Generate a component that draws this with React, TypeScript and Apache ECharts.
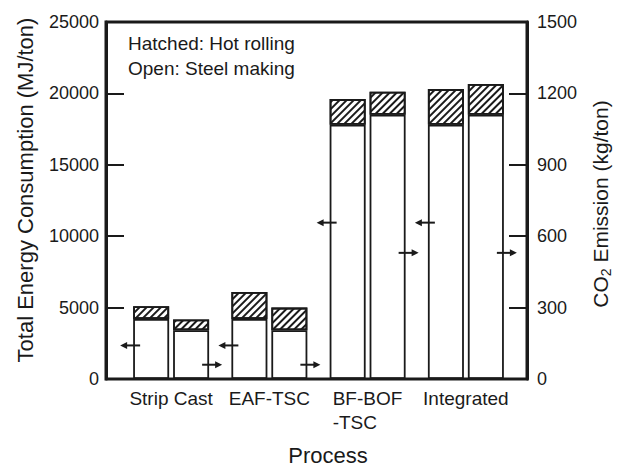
import React, { useEffect, useRef } from 'react';
import * as echarts from 'echarts';

const categories = ['Strip Cast', 'EAF-TSC', 'BF-BOF\n-TSC', 'Integrated'];
const energySteelMaking = [4200, 4200, 17800, 17800];
const energyHotRolling = [900, 1900, 1800, 2500];
const co2SteelMaking = [205, 205, 1110, 1110];
const co2HotRolling = [45, 95, 97, 130];
const leftArrowLevels = [2350, 2350, 10950, 10950];
const rightArrowLevels = [60, 60, 530, 530];

const INK = '#1a1a1a';
const FONT = "'Liberation Sans', Arial, Helvetica, sans-serif";

const hatch = {
  symbol: 'rect',
  symbolSize: 1,
  color: INK,
  backgroundColor: '#fff',
  dashArrayX: [1, 0],
  dashArrayY: [1.3, 2.4],
  rotation: -Math.PI / 4,
};

const barBase = (name: string, stack: string, yAxisIndex: number, data: number[], hatched: boolean) => ({
  type: 'bar',
  name,
  stack,
  yAxisIndex,
  data,
  barWidth: 36,
  barGap: '11%',
  itemStyle: {
    color: '#fff',
    borderColor: INK,
    borderWidth: 1.8,
    ...(hatched ? { decal: hatch } : {}),
  },
  emphasis: { disabled: true },
});

const arrowSeries = (yAxisIndex: number, levels: number[], dir: number) => ({
  type: 'custom',
  yAxisIndex,
  z: 10,
  data: levels.map((v, i) => [i, v]),
  encode: { x: 0, y: 1 },
  renderItem: (_params: any, api: any) => {
    const p = api.coord([api.value(0), api.value(1)]);
    const cx = p[0];
    const y = p[1];
    const head = cx + 51 * dir;
    const tail = cx + 31 * dir;
    const hl = 7 * dir;
    return {
      type: 'group',
      children: [
        {
          type: 'line',
          shape: { x1: tail, y1: y, x2: head - hl * 0.5, y2: y },
          style: { stroke: INK, lineWidth: 2 },
        },
        {
          type: 'polygon',
          shape: { points: [[head, y], [head - hl, y - 3.5], [head - hl, y + 3.5]] },
          style: { fill: INK },
        },
      ],
    };
  },
});

export default function App() {
  const ref = useRef<HTMLDivElement>(null);
  useEffect(() => {
    const chart = echarts.init(ref.current!, null, { renderer: 'svg' });
    const option: any = {
      animation: false,
      backgroundColor: '#fff',
      textStyle: { fontFamily: FONT, color: INK },
      grid: { left: 122, right: 108, top: 22, bottom: 87, containLabel: false },
      xAxis: {
        type: 'category',
        data: categories,
        axisLine: { show: false },
        axisTick: { show: false },
        axisLabel: {
          margin: 7,
          fontSize: 19,
          lineHeight: 24,
          color: INK,
          fontFamily: FONT,
          interval: 0,
          formatter: (v: string) =>
            v.indexOf('\n') >= 0 ? v.split('\n').map((s) => `{l|${s}}`).join('\n') : v,
          rich: {
            l: { width: 70, align: 'left', fontSize: 19, lineHeight: 24, color: INK, fontFamily: FONT },
          },
        },
      },
      yAxis: [
        {
          type: 'value',
          position: 'left',
          offset: 16,
          min: 0,
          max: 25000,
          interval: 5000,
          axisLine: { show: true, lineStyle: { color: INK, width: 3 } },
          axisTick: { show: true, inside: true, length: 18, lineStyle: { color: INK, width: 2 } },
          axisLabel: { margin: 7, fontSize: 18, color: INK, fontFamily: FONT, formatter: (v: number) => String(v) },
          splitLine: { show: false },
        },
        {
          type: 'value',
          position: 'right',
          offset: 12,
          min: 0,
          max: 1500,
          interval: 300,
          axisLine: { show: true, lineStyle: { color: INK, width: 3 } },
          axisTick: { show: true, inside: true, length: 18, lineStyle: { color: INK, width: 2 } },
          axisLabel: { margin: 10, fontSize: 18, color: INK, fontFamily: FONT, formatter: (v: number) => String(v) },
          splitLine: { show: false },
        },
      ],
      series: [
        barBase('Energy: Steel making', 'energy', 0, energySteelMaking, false),
        barBase('Energy: Hot rolling', 'energy', 0, energyHotRolling, true),
        barBase('CO2: Steel making', 'co2', 1, co2SteelMaking, false),
        barBase('CO2: Hot rolling', 'co2', 1, co2HotRolling, true),
        arrowSeries(0, leftArrowLevels, -1),
        arrowSeries(1, rightArrowLevels, 1),
      ],
      graphic: [
        {
          type: 'rect',
          shape: { x: 106, y: 22, width: 421, height: 357 },
          style: { fill: 'none', stroke: INK, lineWidth: 3 },
          z: 100,
          silent: true,
        },
        {
          type: 'text',
          x: 128,
          y: 43,
          style: { text: 'Hatched: Hot rolling', fontSize: 19, fontFamily: FONT, fill: INK, align: 'left', verticalAlign: 'middle' },
        },
        {
          type: 'text',
          x: 128,
          y: 68,
          style: { text: 'Open: Steel making', fontSize: 19, fontFamily: FONT, fill: INK, align: 'left', verticalAlign: 'middle' },
        },
        {
          type: 'text',
          x: 25,
          y: 190,
          rotation: Math.PI / 2,
          style: {
            text: 'Total Energy Consumption (MJ/ton)',
            fontSize: 22,
            fontFamily: FONT,
            fill: INK,
            align: 'center',
            verticalAlign: 'middle',
          },
        },
        {
          type: 'text',
          x: 600,
          y: 204,
          rotation: Math.PI / 2,
          style: {
            text: '{a|CO}{s|2}{a| Emission (kg/ton)}',
            align: 'center',
            verticalAlign: 'middle',
            fill: INK,
            rich: {
              a: { fontSize: 21, fontFamily: FONT, fill: INK, lineHeight: 22 },
              s: { fontSize: 14, fontFamily: FONT, fill: INK, lineHeight: 14, padding: [12, 0, 0, 0] },
            },
          },
        },
        {
          type: 'text',
          x: 328,
          y: 455,
          style: { text: 'Process', fontSize: 22, fontFamily: FONT, fill: INK, align: 'center', verticalAlign: 'middle' },
        },
      ],
    };
    chart.setOption(option);
    return () => chart.dispose();
  }, []);
  return (
    <div
      ref={ref}
      style={{ position: 'fixed', left: 0, top: 0, width: 623, height: 466, background: '#fff' }}
    />
  );
}
